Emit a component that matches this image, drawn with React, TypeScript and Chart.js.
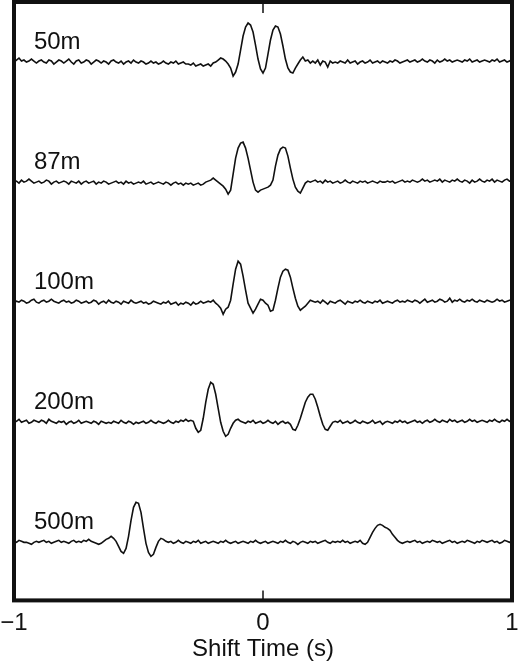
import React, { useEffect, useRef } from "react";
import { Chart, registerables } from "chart.js";

Chart.register(...registerables);

// ---- data (in plot units ~ 1 px) ----
const shiftStart = -1;
const shiftStep = 0.01;
const xTicks = [-1, 0, 1];
const depthLabels = ["50m", "87m", "100m", "200m", "500m"];
const traceOffsets = [538, 418, 298, 178, 58];
const labelShift = -0.92;
const labelRise = 13;

const trace50m = [
  0, 2, 4, 1, 2, 0, 1, 3, 1, -1,
  1, 2, 0, -1, 2, 1, -2, 0, 2, 1,
  -1, 1, 3, 0, -2, 1, 2, -1, 0, 2,
  1, -2, 0, 2, 1, -1, 1, 0, -2, 1,
  2, 0, -1, 1, -2, 0, 1, -1, 2, 0,
  -1, 1, 0, -2, -1, 1, -1, 0, -2, -1,
  1, -1, -2, 0, -1, 1, -2, -1, 0, -2,
  -2, -3, -1, -4, -3, -2, -4, -3, -2, -4,
  -1, 0, 2, 4, 3, 1, -2, -6, -14, -10,
  -2, 12, 26, 35, 39, 37, 30, 17, 3, -7,
  -11, -6, 8, 22, 32, 36, 35, 28, 16, 3,
  -6, -10, -11, -6, -2, 2, 5, 1, 2, -1,
  1, -1, 2, -3, 1, 0, -5, 1, -1, 0,
  -1, 1, 0, -1, 2, -1, 0, 1, -2, 0,
  1, -1, 0, 2, -1, 0, 1, -1, 1, 0,
  -1, 1, 0, 2, 1, -1, 0, 1, 2, 0,
  1, 2, 0, 1, 3, 1, 0, 2, 1, -1,
  2, 0, 1, 3, 1, 2, 0, 1, 2, 1,
  0, 2, 1, 3, 0, 1, 2, 0, 1, 2,
  1, 0, 2, 1, 3, 0, 1, 2, 0, 1,
  3,
];

const trace87m = [
  0, 1, -1, 2, 0, 1, 3, 1, -1, 0,
  1, -1, 0, 2, 1, -2, 0, 1, -1, 0,
  1, 0, -2, 1, 0, -1, 1, -2, 0, 1,
  -1, 0, 1, -2, 0, -1, 1, 0, -2, -1,
  0, 1, -1, 0, -2, 1, -1, 0, -2, -1,
  0, -1, 1, -2, -1, 0, -2, -1, 0, -1,
  -2, 0, -1, -3, -1, 0, -2, -1, -3, -1,
  -2, -1, -3, -2, -1, -3, -2, 0, 1, 2,
  4, 2, 0, -2, -4, -7, -12, -8, 8, 24,
  34, 39, 40, 34, 24, 12, 0, -8, -10, -8,
  -7, -6, -5, -3, 2, 16, 27, 33, 35, 34,
  26, 14, 3, -5, -9, -11, -6, -1, 1, 0,
  1, 2, 0, 1, -1, 2, 0, 1, -1, 0,
  1, -1, 0, 2, 0, -1, 1, 0, -1, 1,
  0, 1, -1, 0, 1, 0, -1, 1, 0, 0,
  1, 0, 1, -1, 0, 1, 2, 0, 1, 0,
  2, 1, 0, 1, 3, 1, 2, 0, 1, 2,
  1, 3, 0, 2, 1, 0, 2, 1, 3, 1,
  0, 2, 1, -1, 2, 0, 1, 3, 1, 0,
  2, 1, 3, 0, 2, 1, 0, 2, 3, 1,
  1,
];

const trace100m = [
  0, 1, 0, 2, 1, -1, 0, 2, 3, 0,
  -1, 1, 2, 0, 1, 3, 1, 0, -1, 1,
  2, 0, 1, -1, 0, 2, 1, -1, 0, 1,
  -1, 0, 2, 1, -2, 0, 1, -1, 2, 0,
  -1, 1, 0, -2, 1, 0, -1, 2, 0, -1,
  0, 1, -1, 0, -2, -1, 1, 0, -1, -2,
  0, -1, 1, -2, -1, 0, -3, -1, -2, 0,
  -1, -3, 0, -2, -1, 1, -1, 0, 1, 0,
  2, -1, -3, -6, -12, -7, -5, 2, 18, 33,
  41, 38, 26, 12, -1, -6, -11, -7, -2, 3,
  2, -1, -3, -9, -8, 2, 14, 25, 31, 33,
  32, 25, 14, 4, -4, -8, -6, -4, -1, 2,
  1, 0, 1, -1, 2, 0, -2, 1, 0, -1,
  1, 2, 0, -2, 1, 0, -1, 1, 0, 2,
  0, -1, 1, 0, -1, 1, 0, 2, -1, 0,
  1, 0, -1, 1, 2, 0, 1, 0, 2, 1,
  0, 2, 1, -1, 1, 3, 0, 1, 2, 0,
  1, 3, 2, 0, 1, 4, 0, 2, 1, 3,
  1, 0, 2, 1, 3, 1, 0, 2, 1, 0,
  2, 1, 0, 1, 3, 1, 2, 0, 1, 2,
  2,
];

const trace200m = [
  0, 1, 3, 0, 1, 2, -1, 0, 2, 1,
  0, 2, 1, -1, 3, 1, 0, -1, 1, 0,
  1, -2, 0, 1, -1, 0, 2, -1, 0, 1,
  0, -1, 1, 0, -2, 1, 0, -1, 0, -1,
  1, 0, -1, 2, 0, -1, 1, 0, -2, 0,
  -1, 0, 1, -1, 0, 2, 0, -1, 1, 0,
  -1, 0, 2, 0, -1, 1, 0, 2, 1, 3,
  1, 2, 1, -6, -10, -8, 4, 20, 33, 40,
  38, 28, 14, 0, -9, -14, -12, -6, -1, 2,
  3, 1, 0, -1, 1, 0, 2, -1, 0, 1,
  -1, 0, 2, 0, -1, 1, -2, 0, 1, -1,
  0, -2, -7, -8, -3, 4, 12, 20, 25, 28,
  28, 23, 15, 6, -2, -7, -8, -4, 0, 1,
  0, 2, -1, 0, 1, -1, 0, 2, 0, -1,
  1, 0, -1, 0, 2, -1, 0, 1, -2, 0,
  1, 0, -1, 1, 0, 2, 0, 1, -1, 0,
  1, 2, 0, 1, -1, 1, 2, 0, 1, 3,
  1, 0, 2, 1, 0, 3, 1, 2, 0, 1,
  2, 0, 1, 3, 1, 2, 0, 1, 2, 1,
  0, 2, 1, 3, 1, 0, 2, 1, 3, 1,
  2,
];

const trace500m = [
  1, 0, 2, 1, 0, 0, -1, -2, 0, 1,
  0, 1, 2, 0, 1, -1, 0, 1, 2, 0,
  1, 0, -1, 1, 2, 0, 1, 0, 2, 1,
  3, 1, 0, -1, -2, -1, 1, 3, 4, 6,
  4, 1, -4, -9, -11, -6, 6, 22, 35, 40,
  39, 30, 14, -1, -10, -14, -12, -5, 1, 4,
  3, 1, 0, 1, -1, 0, 2, 0, -1, 1,
  0, -1, 1, 0, 2, -1, 0, 1, -1, 0,
  1, 0, -1, 1, 0, 2, 0, -1, 0, 1,
  -1, 0, 1, 0, -1, 1, 0, 2, 0, -1,
  0, 1, -1, 0, 1, 0, -1, 1, 0, 2,
  0, -1, 1, 0, -2, 0, 1, 0, -1, 1,
  0, 1, -1, 0, 1, 2, 0, -1, 1, 0,
  1, 0, 2, 0, 1, -1, 0, 1, 0, 2,
  -1, -2, 0, 5, 10, 14, 17, 18, 17, 15,
  14, 12, 8, 5, 2, 0, -1, 0, 1, 0,
  1, 2, 0, 1, -1, 0, 1, 0, 2, 1,
  0, 1, -1, 0, 1, 2, 0, 1, -1, 0,
  1, 0, 2, 1, 0, -1, 1, 0, 2, 1,
  0, 1, 2, 0, 1, -1, 0, 2, 1, 0,
  1,
];

const traces = [trace50m, trace87m, trace100m, trace200m, trace500m];

const FONT = '"Liberation Sans", Arial, Helvetica, sans-serif';
const INK = "#111111";

const framePlugin = {
  id: "frameAndLabels",
  afterDraw(chart: any) {
    const { ctx, chartArea } = chart;
    const xs = chart.scales.x;
    const ys = chart.scales.y;
    ctx.save();
    // inner tick marks at 0 (top and bottom)
    const x0 = xs.getPixelForValue(0);
    ctx.strokeStyle = INK;
    ctx.lineWidth = 1.5;
    ctx.beginPath();
    ctx.moveTo(x0, chartArea.top);
    ctx.lineTo(x0, chartArea.top + 11);
    ctx.moveTo(x0, chartArea.bottom);
    ctx.lineTo(x0, chartArea.bottom - 10);
    ctx.stroke();
    // frame
    ctx.lineWidth = 4;
    ctx.strokeRect(
      chartArea.left,
      chartArea.top,
      chartArea.right - chartArea.left,
      chartArea.bottom - chartArea.top
    );
    // depth labels
    ctx.fillStyle = INK;
    ctx.font = `24px ${FONT}`;
    ctx.textAlign = "left";
    ctx.textBaseline = "alphabetic";
    depthLabels.forEach((lab, k) => {
      ctx.fillText(
        lab,
        xs.getPixelForValue(labelShift),
        ys.getPixelForValue(traceOffsets[k] + labelRise)
      );
    });
    ctx.restore();
  },
};

export default function App() {
  const canvasRef = useRef<HTMLCanvasElement | null>(null);

  useEffect(() => {
    document.body.style.margin = "0";
    const canvas = canvasRef.current;
    if (!canvas) return;
    const datasets = traces.map((vals, k) => ({
      label: depthLabels[k],
      data: vals.map((v, i) => ({
        x: shiftStart + i * shiftStep,
        y: traceOffsets[k] + v,
      })),
      borderColor: INK,
      borderWidth: 1.6,
      pointRadius: 0,
      tension: 0,
      fill: false,
    }));
    const chart = new Chart(canvas, {
      type: "line",
      data: { datasets },
      options: {
        animation: false,
        responsive: false,
        maintainAspectRatio: false,
        layout: { padding: { left: 14, right: 8, top: 2, bottom: 0 } },
        plugins: {
          legend: { display: false },
          tooltip: { enabled: false },
        },
        scales: {
          x: {
            type: "linear",
            min: -1,
            max: 1,
            afterBuildTicks: (axis: any) => {
              axis.ticks = xTicks.map((v) => ({ value: v }));
            },
            afterFit: (axis: any) => {
              axis.paddingLeft = 0;
              axis.paddingRight = 0;
            },
            grid: { display: false, drawTicks: false },
            border: { display: false },
            ticks: {
              color: INK,
              padding: 9,
              maxRotation: 0,
              font: { size: 24, family: FONT },
              callback: (v: any) => String(v).replace("-", "\u2212"),
            },
            title: {
              display: true,
              text: "Shift Time (s)",
              color: INK,
              font: { size: 24, family: FONT },
              padding: { top: -12, bottom: 3 },
            },
          },
          y: {
            type: "linear",
            display: false,
            min: 0,
            max: 598,
          },
        },
      },
      plugins: [framePlugin],
    });
    return () => chart.destroy();
  }, []);

  return (
    <div style={{ position: "fixed", left: 0, top: 0, width: 520, height: 667, background: "#fff" }}>
      <canvas ref={canvasRef} width={520} height={667} />
    </div>
  );
}
